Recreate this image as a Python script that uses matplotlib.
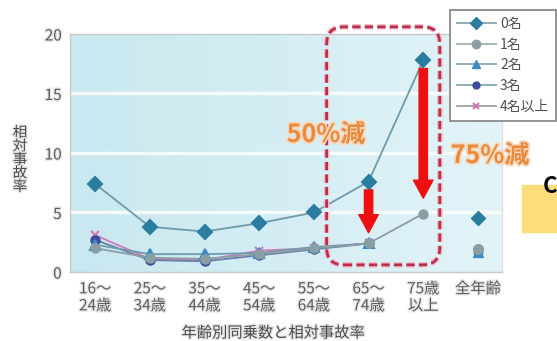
import numpy as np
import matplotlib
matplotlib.use("Agg")
import matplotlib.pyplot as plt
from matplotlib.patches import FancyBboxPatch, FancyArrowPatch, Rectangle
from matplotlib.lines import Line2D
from matplotlib.colors import LinearSegmentedColormap
import matplotlib.patheffects as pe

plt.rcParams['font.family'] = ['Noto Sans CJK JP', 'DejaVu Sans']

categories = ["16～\n24歳", "25～\n34歳", "35～\n44歳", "45～\n54歳",
              "55～\n64歳", "65～\n74歳", "75歳\n以上", "全年齢"]

passengers_0 = [7.4, 3.8, 3.4, 4.1, 5.0, 7.6, 17.8]
passengers_1 = [2.0, 1.2, 1.1, 1.5, 2.0, 2.4, 4.9]
passengers_2 = [2.3, 1.5, 1.5, 1.6, 2.1, 2.4]
passengers_3 = [2.7, 1.0, 0.9, 1.4, 1.9, 2.4]
passengers_4plus = [3.1, 1.1, 1.0, 1.8, 2.0, 2.4]

overall = {"0名": 4.5, "1名": 1.9, "2名": 1.7, "3名": 1.7, "4名以上": 1.8}

yticks = [0, 5, 10, 15, 20]
legend_labels = ["0名", "1名", "2名", "3名", "4名以上"]

fig = plt.figure(figsize=(5.57, 3.41), dpi=100)
W, H = 557, 341
ax = fig.add_axes([70 / W, 69 / H, 432 / W, 238 / H])

ax.set_xlim(-0.46, 7.44)
ax.set_ylim(0, 20)

# pale blue gradient plot background
grad = np.linspace(0, 1, 256).reshape(1, -1)
bg = LinearSegmentedColormap.from_list("bg", ["#c9e8ef", "#d4eef4", "#e3f4f8"])
ax.imshow(grad, extent=[-0.46, 7.44, 0, 20], aspect="auto", cmap=bg, zorder=0)
for yv in [5, 10, 15]:
    ax.axhline(yv, color="white", lw=2.5, alpha=0.8, zorder=1)

series = [
    (passengers_4plus, "#d07ab8", "x", 6, "#d07ab8"),
    (passengers_3, "#3b4d9c", "o", 6, "#6c7fa8"),
    (passengers_2, "#3f8cc4", "^", 7, "#6f9bb0"),
    (passengers_1, "#8a9ea4", "o", 6, "#8a9ea4"),
    (passengers_0, "#2b7da0", "D", 7, "#6f9aaa"),
]
for vals, mcol, mk, ms, lcol in series:
    xs = np.arange(len(vals))
    ax.plot(xs, vals, color=lcol, lw=1.3, zorder=3)
    ax.plot(xs, vals, ls="none", marker=mk, ms=ms, color=mcol,
            mec=mcol, mew=1.5, zorder=4)

ov_style = {"0名": ("#2b7da0", "D", 7), "2名": ("#3f8cc4", "^", 7),
            "3名": ("#3b4d9c", "o", 6), "4名以上": ("#d07ab8", "x", 5),
            "1名": ("#8a9ea4", "o", 7)}
for key in ["4名以上", "3名", "2名", "1名", "0名"]:
    c, mk, ms = ov_style[key]
    ax.plot([7], [overall[key]], ls="none", marker=mk, ms=ms, color=c,
            mec=c, zorder=4)

for s in ax.spines.values():
    s.set_color("#c8c8c8")
    s.set_linewidth(1)
ax.spines["right"].set_color("#e0e0e0")

ax.set_xticks(range(len(categories)))
ax.set_xticklabels(categories, fontsize=11, color="#5a5a5a", linespacing=1.0)
ax.set_yticks(yticks)
ax.set_yticklabels([str(v) for v in yticks], fontsize=11, color="#5a5a5a")
ax.tick_params(length=0, pad=6)
halo = [pe.withStroke(linewidth=2, foreground="#e8e8e8")]
for t in ax.get_xticklabels() + ax.get_yticklabels():
    t.set_path_effects(halo)

fig.text(273 / W, 1 - 333 / H, "年齢別同乗数と相対事故率", ha="center",
         va="center", fontsize=11, color="#4a4a4a", path_effects=halo)
fig.text(20 / W, 1 - 160 / H, "相\n対\n事\n故\n率", ha="center", va="center",
         fontsize=10.5, color="#4a4a4a", linespacing=0.95, path_effects=halo)

# dashed rounded frame around the elderly age groups
box = FancyBboxPatch((0.594, 0.03), 0.262, 1.0,
                     boxstyle="round,pad=0,rounding_size=0.04",
                     transform=ax.transAxes, fill=False, ec="#b8304e",
                     lw=2.0, ls=(0, (3, 1.5)), clip_on=False, zorder=5,
                     mutation_aspect=432 / 238)
box.set_path_effects([pe.withStroke(linewidth=4, foreground="#f6b9c6")])
ax.add_patch(box)

for x0, y0, y1 in [(5, 6.9, 3.3), (6, 17.1, 6.2)]:
    arr = FancyArrowPatch((x0, y0), (x0, y1),
                          arrowstyle="simple,head_width=1.4,head_length=1.3,tail_width=0.6",
                          mutation_scale=10, color="#ee1010", zorder=6,
                          shrinkA=0, shrinkB=0)
    ax.add_patch(arr)

orange = "#e98a3f"
glow = [pe.withStroke(linewidth=2.5, foreground="#f7d9bd")]
fig.text(326 / W, 1 - 135 / H, "50%減", ha="center", va="center",
         fontsize=18, fontweight="bold", color=orange, path_effects=glow,
         zorder=7)
fig.text(490 / W, 1 - 156 / H, "75%減", ha="center", va="center",
         fontsize=18, fontweight="bold", color=orange, path_effects=glow,
         zorder=7)

# yellow callout at the right edge
fig.add_artist(Rectangle((522 / W, 1 - 232 / H), 40 / W, 47 / H,
                         transform=fig.transFigure, color="#fddc7c",
                         zorder=2))
fig.text(543 / W, 1 - 187 / H, "C", ha="left", va="center", fontsize=16,
         fontweight="bold", color="black", zorder=3)

handles = [
    Line2D([], [], color="#8aa7b2", lw=1.3, marker="D", ms=6,
           mfc="#2b7da0", mec="#2b7da0"),
    Line2D([], [], color="#a0b0b4", lw=1.3, marker="o", ms=6,
           mfc="#8a9ea4", mec="#8a9ea4"),
    Line2D([], [], color="#8aa7b2", lw=1.3, marker="^", ms=6,
           mfc="#3f8cc4", mec="#3f8cc4"),
    Line2D([], [], color="#8aa7b2", lw=1.3, marker="o", ms=5,
           mfc="#3b4d9c", mec="#3b4d9c"),
    Line2D([], [], color="#a0a0a0", lw=1.3, marker="x", ms=5,
           mfc="#d07ab8", mec="#d07ab8", mew=1.5),
]
leg = fig.legend(handles, legend_labels, loc="upper left",
                 bbox_to_anchor=(450 / W, 1 - 10 / H), fontsize=10,
                 frameon=True, fancybox=False, framealpha=1,
                 edgecolor="#808080", handlelength=2.8, handletextpad=0.3,
                 labelspacing=0.48, borderpad=0.5, borderaxespad=0,
                 labelcolor="#505050")
leg.get_frame().set_linewidth(1.2)

fig.savefig("out.png", dpi=100)
